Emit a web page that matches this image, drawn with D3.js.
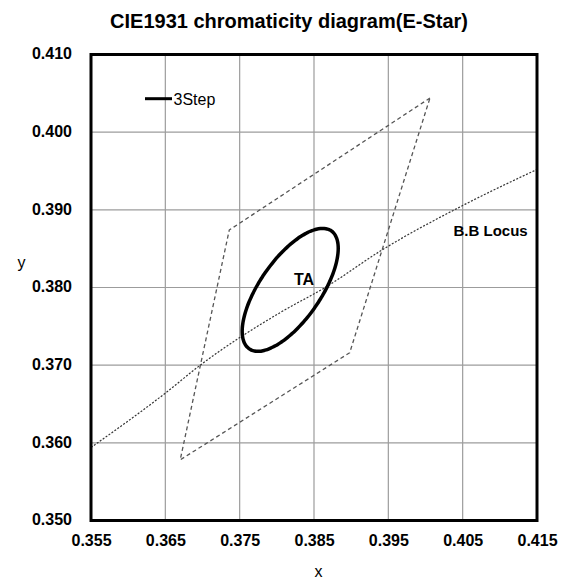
<!DOCTYPE html>
<html><head><meta charset="utf-8">
<script src="https://cdn.jsdelivr.net/npm/d3@7"></script>
<style>
body{margin:0;background:#fff;}
svg{display:block;font-family:"Liberation Sans",Arial,sans-serif;}
</style></head>
<body><svg id="c" width="563" height="583"></svg>
<script>
// ---- data ----
const xTicks = [0.355, 0.365, 0.375, 0.385, 0.395, 0.405, 0.415];
const yTicks = [0.350, 0.360, 0.370, 0.380, 0.390, 0.400, 0.410];
// ANSI 4000K quadrangle corners (x, y)
const quadX = [0.4006, 0.3736, 0.3670, 0.3898];
const quadY = [0.4044, 0.3874, 0.3578, 0.3716];
// Black body locus points
const locusX = [0.355, 0.365, 0.3697, 0.3805, 0.3865, 0.3941, 0.4053, 0.415];
const locusY = [0.3594, 0.3664, 0.3700, 0.3768, 0.3800, 0.3848, 0.3907, 0.3952];
// 3-step MacAdam ellipse (TA): centre, semi-axes, rotation (deg)
const ellipseCenter = [0.3818, 0.3797];
const ellipseAxes = [0.00939, 0.00402];
const ellipseAngle = 53.43;
const seriesName = "3Step";

// ---- layout ----
const svg = d3.select("#c");
const L = 91, R = 537, T = 54.5, B = 520.5;
const x = d3.scaleLinear().domain([0.355, 0.415]).range([L, R]);
const y = d3.scaleLinear().domain([0.350, 0.410]).range([B, T]);

svg.append("defs").append("clipPath").attr("id","clip")
  .append("rect").attr("x",L).attr("y",T).attr("width",R-L).attr("height",B-T);

// grid
const grid = svg.append("g");
grid.selectAll("line.v").data(xTicks.slice(1,-1)).join("line")
  .attr("x1",d=>x(d)).attr("x2",d=>x(d)).attr("y1",T).attr("y2",B)
  .attr("stroke","#9c9c9c").attr("stroke-width",1.2);
grid.selectAll("line.h").data(yTicks.slice(1,-1)).join("line")
  .attr("y1",d=>y(d)).attr("y2",d=>y(d)).attr("x1",L).attr("x2",R)
  .attr("stroke","#9c9c9c").attr("stroke-width",1.2);

// axes
const fmt = d3.format(".3f");
const xa = svg.append("g").attr("transform",`translate(0,${B})`)
  .call(d3.axisBottom(x).tickValues(xTicks).tickFormat(fmt).tickSize(0).tickPadding(14));
const ya = svg.append("g").attr("transform",`translate(${L},0)`)
  .call(d3.axisLeft(y).tickValues(yTicks).tickFormat(fmt).tickSize(0).tickPadding(19));
[xa,ya].forEach(a=>{
  a.select(".domain").remove();
  a.selectAll("text").attr("font-family","Liberation Sans, Arial, sans-serif")
    .attr("font-size",16).attr("font-weight","bold").attr("fill","#000");
});
ya.selectAll("text").attr("dy","0.28em");

const plot = svg.append("g").attr("clip-path","url(#clip)");

// locus
const locus = locusX.map((v,i)=>[v, locusY[i]]);
plot.append("path").datum(locus)
  .attr("d", d3.line().x(d=>x(d[0])).y(d=>y(d[1])).curve(d3.curveMonotoneX))
  .attr("fill","none").attr("stroke","#333").attr("stroke-width",1.2)
  .attr("stroke-dasharray","2,1.6");

// quadrangle
const quad = quadX.map((v,i)=>[v, quadY[i]]);
plot.append("path").datum(quad)
  .attr("d", d3.line().x(d=>x(d[0])).y(d=>y(d[1])).curve(d3.curveLinearClosed))
  .attr("fill","none").attr("stroke","#555").attr("stroke-width",1.3)
  .attr("stroke-dasharray","4,3").attr("stroke-linejoin","round");

// ellipse
const th = ellipseAngle*Math.PI/180;
const ell = d3.range(0, 361, 3).map(a=>{
  const t = a*Math.PI/180;
  const ex = ellipseAxes[0]*Math.cos(t), ey = ellipseAxes[1]*Math.sin(t);
  return [ellipseCenter[0] + ex*Math.cos(th) - ey*Math.sin(th),
          ellipseCenter[1] + ex*Math.sin(th) + ey*Math.cos(th)];
});
plot.append("path").datum(ell)
  .attr("d", d3.line().x(d=>x(d[0])).y(d=>y(d[1])).curve(d3.curveCardinalClosed))
  .attr("fill","none").attr("stroke","#000").attr("stroke-width",3.5);

// labels
svg.append("text").attr("x",304).attr("y",284.5).attr("text-anchor","middle")
  .attr("font-size",16).attr("font-weight","bold").text("TA");
svg.append("text").attr("x",453.5).attr("y",235.5)
  .attr("font-size",15).attr("font-weight","bold").text("B.B Locus");

// legend
svg.append("line").attr("x1",145).attr("x2",172).attr("y1",98.7).attr("y2",98.7)
  .attr("stroke","#000").attr("stroke-width",3);
svg.append("text").attr("x",173.5).attr("y",104.8).attr("font-size",16).text(seriesName);

// frame
svg.append("rect").attr("x",L).attr("y",T).attr("width",R-L).attr("height",B-T)
  .attr("fill","none").attr("stroke","#000").attr("stroke-width",3);

// title & axis titles
svg.append("text").attr("x",289).attr("y",27.7).attr("text-anchor","middle")
  .attr("font-size",20).attr("font-weight","bold").text("CIE1931 chromaticity diagram(E-Star)");
svg.append("text").attr("x",318.5).attr("y",577.3).attr("text-anchor","middle")
  .attr("font-size",16).text("x");
svg.append("text").attr("x",21.5).attr("y",268.3).attr("text-anchor","middle")
  .attr("font-size",16).text("y");
</script></body></html>
